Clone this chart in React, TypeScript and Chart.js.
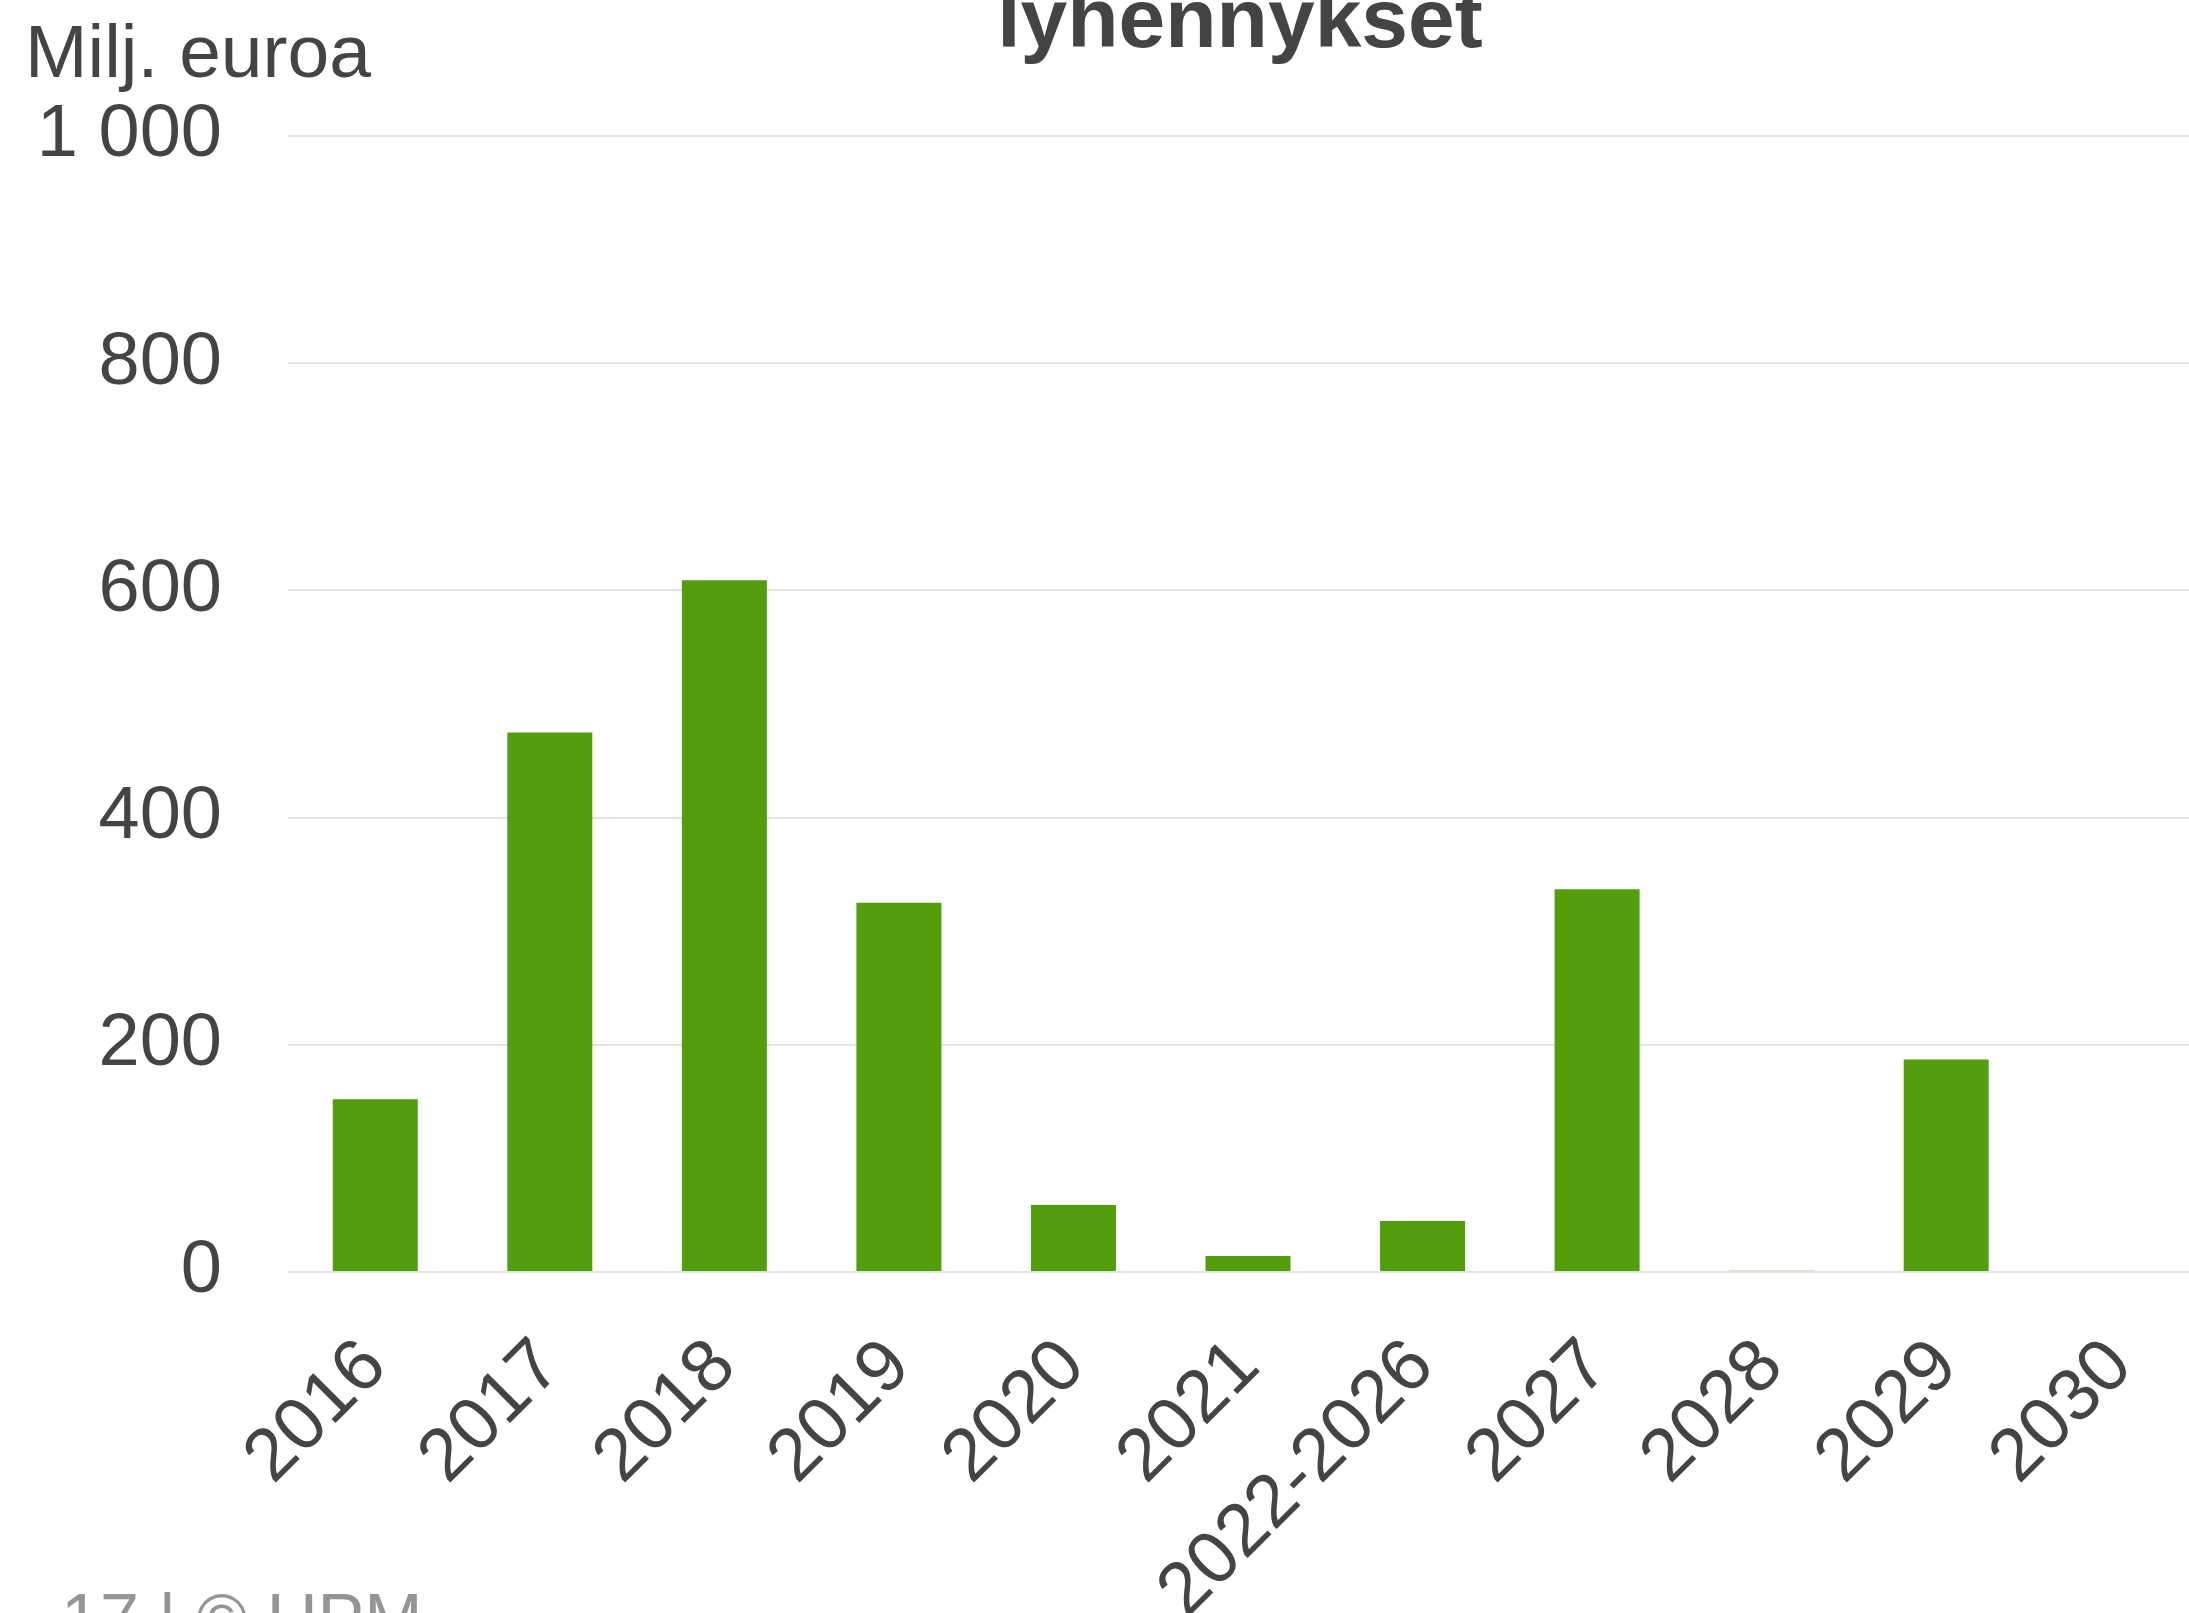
import React, { useEffect, useRef } from 'react';
import { Chart, registerables } from 'chart.js';

Chart.register(...registerables);

// ---- data ----
const categories = ['2016', '2017', '2018', '2019', '2020', '2021', '2022-2026', '2027', '2028', '2029', '2030'];
const repayments = [152, 475, 609, 325, 59, 14, 45, 337, 1, 187, 0];
const yMin = 0;
const yMax = 1000;
const yStep = 200;
const titleText = 'lyhennykset';
const unitLabel = 'Milj. euroa';
const footerText = '17 | \u00A9 UPM';

const FONT = '"Liberation Sans", Arial, Helvetica, sans-serif';
const TEXT = '#444444';
const GREEN = '#529e0c';

const formatThousands = (v: number) => String(v).replace(/\B(?=(\d{3})+(?!\d))/g, ' ');

const textPlugin = {
  id: 'extraText',
  afterDraw(chart: any) {
    const ctx = chart.ctx as CanvasRenderingContext2D;
    ctx.save();
    ctx.textBaseline = 'alphabetic';
    ctx.fillStyle = TEXT;
    ctx.font = `bold 84px ${FONT}`;
    ctx.textAlign = 'center';
    ctx.fillText(titleText, 1240, 47);
    ctx.font = `75px ${FONT}`;
    ctx.textAlign = 'left';
    ctx.fillText(unitLabel, 25, 77);
    ctx.fillStyle = '#959595';
    ctx.font = `70px ${FONT}`;
    ctx.fillText(footerText, 61, 1643);
    ctx.restore();
  },
};

export default function App() {
  const ref = useRef<HTMLCanvasElement | null>(null);

  useEffect(() => {
    if (!ref.current) return;
    const chart = new Chart(ref.current, {
      type: 'bar',
      data: {
        labels: categories,
        datasets: [
          {
            data: repayments,
            backgroundColor: GREEN,
            borderWidth: 0,
            barPercentage: 0.487,
            categoryPercentage: 1,
          },
        ],
      },
      options: {
        responsive: false,
        animation: false,
        devicePixelRatio: 1,
        layout: { padding: { top: 136, left: 0, right: 0, bottom: 0 } },
        plugins: { legend: { display: false }, tooltip: { enabled: false } },
        scales: {
          x: {
            grid: { display: false, drawTicks: false },
            border: { display: false },
            ticks: {
              autoSkip: false,
              minRotation: 45,
              maxRotation: 45,
              padding: 51,
              color: TEXT,
              font: { size: 74, family: FONT },
            },
            afterFit: (s: any) => {
              s.height = 341;
              s.paddingLeft = 0;
              s.paddingRight = 0;
            },
          },
          y: {
            min: yMin,
            max: yMax,
            grid: { color: '#e3e3e3', lineWidth: 2, drawTicks: false },
            border: { display: false },
            ticks: {
              stepSize: yStep,
              padding: 66,
              color: TEXT,
              font: { size: 74, family: FONT },
              callback: (v: any) => formatThousands(Number(v)),
            },
            afterFit: (s: any) => {
              s.width = 288;
            },
          },
        },
      },
      plugins: [textPlugin],
    });
    return () => chart.destroy();
  }, []);

  return (
    <div style={{ position: 'fixed', left: 0, top: 0, width: 2189, height: 1613, overflow: 'hidden', background: '#fff' }}>
      <canvas ref={ref} width={2208} height={1613} style={{ width: 2208, height: 1613, display: 'block' }} />
    </div>
  );
}
